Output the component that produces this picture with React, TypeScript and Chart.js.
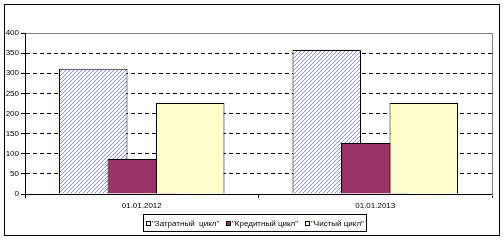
import React, { useEffect, useRef } from 'react';
import { Chart, registerables } from 'chart.js';

Chart.register(...registerables);

const categories = ['01.01.2012', '01.01.2013'];
const seriesNames = ['"Затратный  цикл"', '"Кредитный цикл"', '"Чистый цикл"'];
const costCycle = [311, 358];
const creditCycle = [87, 127];
const netCycle = [226, 226];
const yTicks = [0, 50, 100, 150, 200, 250, 300, 350, 400];

const FONT = '"Liberation Sans", Arial, sans-serif';
const MAROON = '#993366';
const YELLOW = '#FFFFCC';
const legendFills = ['#ffffff', MAROON, YELLOW];

function makeHatch(): CanvasPattern | string {
  const c = document.createElement('canvas');
  c.width = 4;
  c.height = 4;
  const g = c.getContext('2d');
  if (!g) return '#ccccff';
  g.fillStyle = '#ffffff';
  g.fillRect(0, 0, 4, 4);
  g.fillStyle = '#8a8aff';
  for (let i = 0; i < 4; i++) g.fillRect(3 - i, i, 1, 1);
  return g.createPattern(c, 'repeat') || '#ccccff';
}

const drawOrderPlugin = {
  id: 'drawOrder',
  beforeDatasetsDraw(chart: any) {
    for (let i = 0; i < chart.data.datasets.length; i++) {
      const meta = chart.getDatasetMeta(i);
      if (!meta.hidden) meta.controller.draw();
    }
    return false;
  },
};

const framePlugin = {
  id: 'excelFrame',
  afterDraw(chart: any) {
    const { ctx, chartArea } = chart;
    ctx.save();
    ctx.strokeStyle = '#000000';
    ctx.lineWidth = 1;
    ctx.strokeRect(4.5, 4.5, 495, 231);
    ctx.strokeStyle = '#808080';
    ctx.beginPath();
    ctx.moveTo(chartArea.left + 1, Math.round(chartArea.top) + 0.5);
    ctx.lineTo(Math.round(chartArea.right) + 0.5, Math.round(chartArea.top) + 0.5);
    ctx.lineTo(Math.round(chartArea.right) + 0.5, Math.round(chartArea.bottom) + 2);
    ctx.stroke();

    // legend
    ctx.font = `8px ${FONT}`;
    ctx.textBaseline = 'middle';
    ctx.textAlign = 'left';
    let x = 146;
    let lastEnd = x;
    chart.data.datasets.forEach((ds: any, i: number) => {
      const w = ctx.measureText(ds.label).width;
      ctx.fillStyle = legendFills[i];
      ctx.fillRect(x, 221, 4, 4);
      ctx.strokeStyle = '#000000';
      ctx.strokeRect(x + 0.5, 221.5, 4, 4);
      ctx.fillStyle = '#000000';
      ctx.fillText(ds.label, x + 6, 224);
      lastEnd = x + 6 + w;
      x = Math.round(lastEnd + 7);
    });
    ctx.strokeStyle = '#000000';
    ctx.strokeRect(143.5, 214.5, Math.round(lastEnd + 2) - 143, 17);
    ctx.restore();
  },
};

export default function App() {
  const canvasRef = useRef<HTMLCanvasElement | null>(null);

  useEffect(() => {
    document.body.style.margin = '0';
    const canvas = canvasRef.current;
    if (!canvas) return;
    const hatch = makeHatch();

    const common = {
      borderColor: '#000000',
      borderWidth: 1,
      barPercentage: 1.412,
      categoryPercentage: 0.623,
    };

    const chart = new Chart(canvas, {
      type: 'bar',
      data: {
        labels: categories,
        datasets: [
          { label: seriesNames[0], data: costCycle, backgroundColor: hatch as any, ...common },
          { label: seriesNames[1], data: creditCycle, backgroundColor: MAROON, ...common },
          { label: seriesNames[2], data: netCycle, backgroundColor: YELLOW, ...common },
        ],
      },
      options: {
        animation: false,
        responsive: false,
        maintainAspectRatio: false,
        devicePixelRatio: 1,
        layout: { padding: { top: 33, right: 11, left: 0, bottom: 0 } },
        plugins: {
          legend: { display: false },
          tooltip: { enabled: false },
        },
        scales: {
          x: {
            afterFit: (s: any) => { s.height = 46; },
            grid: {
              offset: true,
              drawOnChartArea: false,
              drawTicks: true,
              tickLength: 4,
              color: '#000000',
              tickColor: '#000000',
            },
            border: { display: true, color: '#000000', width: 1 },
            ticks: {
              color: '#000000',
              font: { family: FONT, size: 8 },
              padding: 3,
              maxRotation: 0,
            },
          },
          y: {
            min: 0,
            max: 400,
            afterFit: (s: any) => { s.width = 25; },
            afterBuildTicks: (s: any) => { s.ticks = yTicks.map((v) => ({ value: v })); },
            grid: {
              color: (c: any) => (c.tick && (c.tick.value === 0 || c.tick.value === 400) ? 'rgba(0,0,0,0)' : '#000000'),
              tickColor: '#000000',
              tickLength: 4,
              drawTicks: true,
            },
            border: { display: true, color: '#000000', width: 1, dash: [4, 3] },
            ticks: {
              color: '#000000',
              font: { family: FONT, size: 8 },
              padding: 2,
            },
          },
        },
      },
      plugins: [drawOrderPlugin, framePlugin],
    });

    return () => chart.destroy();
  }, []);

  return (
    <div style={{ width: 503, height: 240, position: 'relative' }}>
      <canvas ref={canvasRef} width={503} height={240} />
    </div>
  );
}
